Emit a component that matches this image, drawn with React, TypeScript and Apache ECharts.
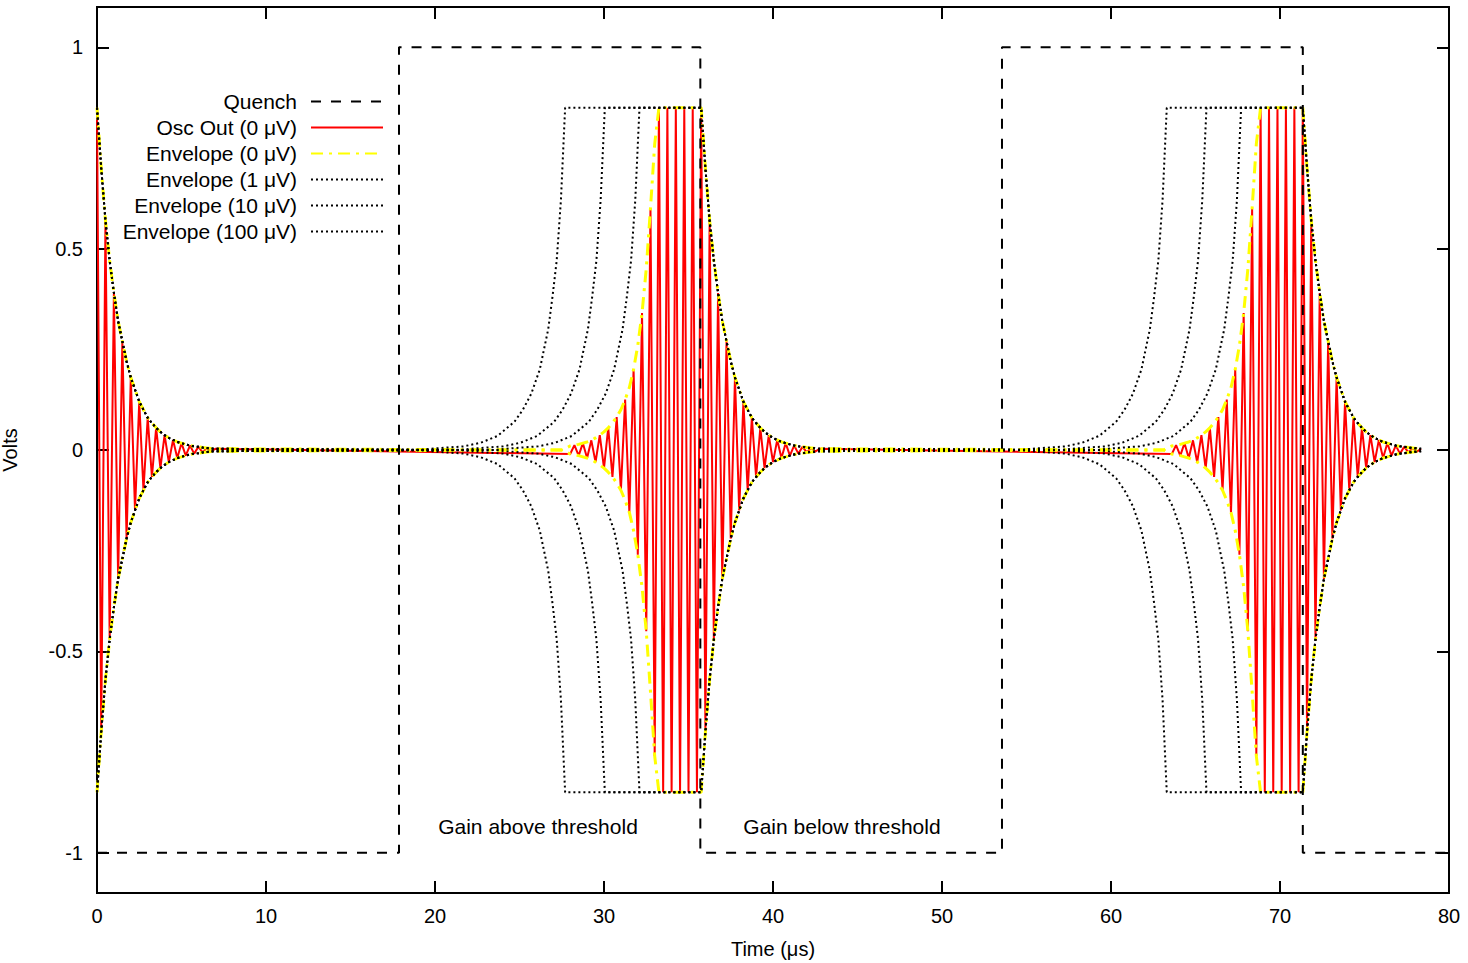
import React, { useEffect, useRef } from "react";
import * as echarts from "echarts";

// Envelope decay after the quench turns the gain off (step 0.25 µs from decay start)
const DECAY_STEP = 0.25;
const DECAY = [0.85, 0.7, 0.57, 0.47, 0.39, 0.32, 0.27, 0.22, 0.18, 0.15, 0.12, 0.1, 0.08, 0.067, 0.055, 0.045, 0.037, 0.03, 0.025, 0.02, 0.017, 0.014, 0.011, 0.009, 0.008, 0.006, 0.005, 0.004, 0.003];
const DECAY_STARTS = [0, 35.75, 71.35];

// Rise of the 0 µV envelope (step 0.25 µs, ending at the clip time)
const Y_RISE = [0.01, 0.012, 0.014, 0.017, 0.02, 0.024, 0.03, 0.037, 0.045, 0.055, 0.067, 0.082, 0.1, 0.125, 0.155, 0.2, 0.26, 0.34, 0.45, 0.6, 0.76, 0.85];
const Y_CLIP_TIMES = [33.25, 68.85];

// Rise of the 1/10/100 µV envelopes: offset before clip time -> value
const DOT_RISE_OFFSETS = [8, 6, 5, 4, 3, 2.5, 2, 1.5, 1, 0.75, 0.5, 0.25, 0];
const DOT_RISE = [0.003, 0.009, 0.018, 0.035, 0.07, 0.1, 0.14, 0.2, 0.3, 0.38, 0.47, 0.62, 0.85];
const CLIP_1UV = [32.1, 67.7];
const CLIP_10UV = [30.05, 65.65];
const CLIP_100UV = [27.7, 63.3];

// Quench square wave edges
const QUENCH_T = [0, 17.87, 17.87, 35.7, 35.7, 53.55, 53.55, 71.35, 71.35, 80];
const QUENCH_V = [-1, -1, 1, 1, -1, -1, 1, 1, -1, -1];

const Y_TICKS = [-1, -0.5, 0, 0.5, 1];

const FONT = "Liberation Sans, Arial, sans-serif";

function decayPts(start: number) {
  return DECAY.map((v, i) => [start + i * DECAY_STEP, v]);
}

function envFromRise(riseFn: (b: number) => number[][]) {
  let pts: number[][] = [...decayPts(DECAY_STARTS[0])];
  for (let b = 0; b < 2; b++) {
    const r = riseFn(b);
    pts.push([r[0][0] - 0.5, 0]);
    pts = pts.concat(r);
    pts = pts.concat(decayPts(DECAY_STARTS[b + 1]));
  }
  return pts;
}

const yellowEnv = envFromRise((b) =>
  Y_RISE.map((v, i) => [Y_CLIP_TIMES[b] - (Y_RISE.length - 1 - i) * DECAY_STEP, v])
);
const dotEnv = (clips: number[]) =>
  envFromRise((b) => DOT_RISE.map((v, i) => [clips[b] - DOT_RISE_OFFSETS[i], v]));

// Oscillator output: alternating peaks that follow the 0 µV envelope samples
function redOsc() {
  const pts: number[][] = [];
  let s = 1;
  const push = (t: number, v: number) => {
    pts.push([t, s * v]);
    s = -s;
  };
  DECAY.forEach((v, i) => push(i * DECAY_STEP, v));
  for (let b = 0; b < 2; b++) {
    const T = Y_CLIP_TIMES[b];
    Y_RISE.forEach((v, i) => push(T - (Y_RISE.length - 1 - i) * DECAY_STEP, v));
    for (let t = T + DECAY_STEP; t < DECAY_STARTS[b + 1] - 0.01; t += DECAY_STEP) push(t, 0.85);
    DECAY.forEach((v, i) => push(DECAY_STARTS[b + 1] + i * DECAY_STEP, v));
  }
  pts.sort((a, c) => a[0] - c[0]);
  return pts;
}

const neg = (pts: number[][]) => pts.map(([t, v]) => [t, -v]);

export default function App() {
  const ref = useRef<HTMLDivElement>(null);
  useEffect(() => {
    const chart = echarts.init(ref.current!, null, { renderer: "svg" });
    const dotted = { color: "#000", width: 2, type: [2, 3] as number[] };
    const yellow = { color: "#ffff00", width: 3, type: [12, 6, 3, 6] as number[] };
    const mk = (name: string, data: number[][], lineStyle: any, z = 2) => ({
      name,
      type: "line",
      data,
      symbol: "none",
      lineStyle,
      itemStyle: { color: lineStyle.color },
      z,
      silent: true,
    });
    const e1 = dotEnv(CLIP_1UV), e10 = dotEnv(CLIP_10UV), e100 = dotEnv(CLIP_100UV);
    const quench = QUENCH_T.map((t, i) => [t, QUENCH_V[i]]);
    const osc = redOsc();
    const names = ["Quench", "Osc Out (0 μV)", "Envelope (0 μV)", "Envelope (1 μV)", "Envelope (10 μV)", "Envelope (100 μV)"];
    const tick = { show: true, inside: true, length: 12, lineStyle: { color: "#000", width: 2 } };
    const line = { show: true, onZero: false, lineStyle: { color: "#000", width: 2 } };
    const bare = { axisLabel: { show: false }, splitLine: { show: false }, axisLine: line };
    chart.setOption({
      animation: false,
      grid: { left: 97, right: 19, top: 7, bottom: 70, show: false, outerBoundsMode: "none", containLabel: false },
      legend: {
        data: names,
        orient: "vertical",
        right: 1084,
        top: 91,
        padding: 0,
        align: "right",
        itemWidth: 72,
        itemHeight: 14,
        itemGap: 5,
        itemStyle: { opacity: 0 },
        textStyle: { fontFamily: FONT, fontSize: 21, color: "#000", padding: [0, 9, 0, 0] },
      },
      xAxis: [
        {
          type: "value", min: 0, max: 80, interval: 10,
          axisLine: line,
          axisTick: tick,
          splitLine: { show: false },
          axisLabel: { fontFamily: FONT, fontSize: 20, color: "#000", margin: 13 },
          name: "Time (μs)", nameLocation: "middle", nameGap: 46,
          nameTextStyle: { fontFamily: FONT, fontSize: 20, color: "#000" },
        },
        { type: "value", min: 0, max: 80, interval: 10, position: "top", axisTick: tick, ...bare },
        { type: "value", min: 0, max: 80, interval: 10, position: "bottom", axisTick: tick, ...bare },
      ],
      yAxis: [
        {
          type: "value", min: -1.1, max: 1.1,
          axisLine: line,
          splitLine: { show: false },
          axisTick: { ...tick, customValues: Y_TICKS },
          axisLabel: { customValues: Y_TICKS, fontFamily: FONT, fontSize: 20, color: "#000", margin: 14 },
          name: "Volts", nameLocation: "middle", nameGap: 77,
          nameTextStyle: { fontFamily: FONT, fontSize: 20, color: "#000" },
        },
        { type: "value", min: -1.1, max: 1.1, position: "right", axisTick: { ...tick, customValues: Y_TICKS }, ...bare },
        { type: "value", min: -1.1, max: 1.1, position: "left", axisTick: { ...tick, customValues: Y_TICKS }, ...bare },
      ],
      graphic: [
        { type: "text", x: 538, y: 826, style: { text: "Gain above threshold", font: `21px ${FONT}`, fill: "#000", align: "center", verticalAlign: "middle" } },
        { type: "text", x: 842, y: 826, style: { text: "Gain below threshold", font: `21px ${FONT}`, fill: "#000", align: "center", verticalAlign: "middle" } },
      ],
      series: [
        mk(names[0], quench, { color: "#000", width: 2, type: [10, 10] }, 5),
        mk(names[1], osc, { color: "#ff0000", width: 2 }, 3),
        mk(names[2], yellowEnv, yellow, 4),
        mk(names[2], neg(yellowEnv), yellow, 4),
        mk(names[3], e1, dotted, 6),
        mk(names[3], neg(e1), dotted, 6),
        mk(names[4], e10, dotted, 6),
        mk(names[4], neg(e10), dotted, 6),
        mk(names[5], e100, dotted, 6),
        mk(names[5], neg(e100), dotted, 6),
      ],
    });
    return () => chart.dispose();
  }, []);
  return <div ref={ref} style={{ position: "absolute", left: 0, top: 0, width: 1468, height: 963 }} />;
}
